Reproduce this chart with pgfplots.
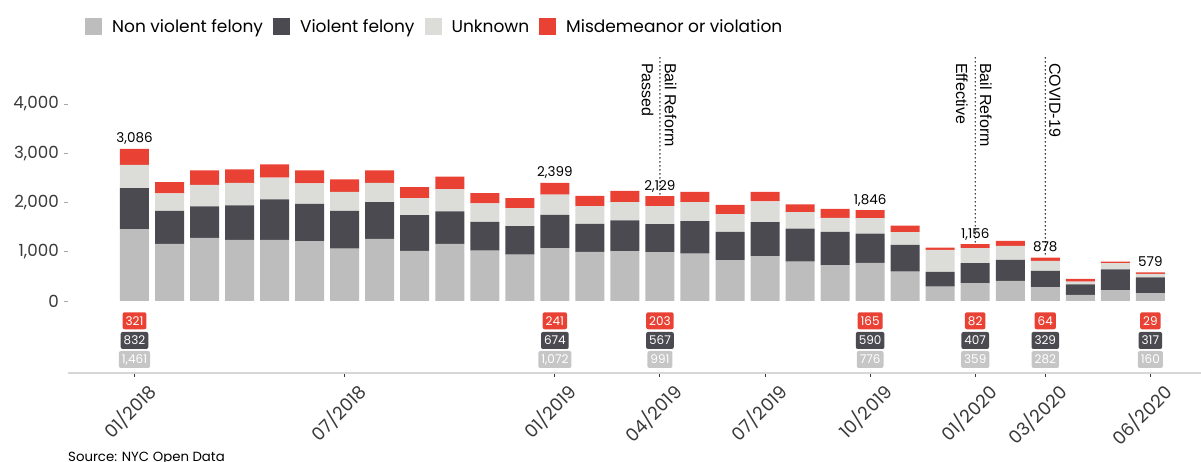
\documentclass[border=0pt]{standalone}
\usepackage{fontspec}
\setmainfont{Poppins}
\newfontfamily\annfont{Liberation Sans}
\usepackage{pgfplots}
\pgfplotsset{compat=1.18}
\usepackage{pgfplotstable}
\definecolor{cNV}{HTML}{BDBDBD}
\definecolor{cV}{HTML}{4A4A50}
\definecolor{cU}{HTML}{DCDCD8}
\definecolor{cM}{HTML}{E94235}
\definecolor{cBoxG}{HTML}{C6C6C6}
\definecolor{cAxis}{HTML}{D6D6D6}
\definecolor{cTxt}{HTML}{3A3A3A}

% month index, non violent felony, violent felony, unknown, misdemeanor/violation
\pgfplotstableread{
m nv v u md
1 1461 832 472 321
2 1159 672 352 231
3 1281 638 440 292
4 1241 698 461 271
5 1241 820 441 271
6 1214 759 413 265
7 1064 767 386 251
8 1261 746 393 251
9 1017 725 346 224
10 1159 658 454 251
11 1024 583 373 210
12 942 577 366 203
13 1072 674 412 241
14 997 569 359 211
15 1010 624 373 230
16 991 567 368 203
17 963 657 387 210
18 827 576 360 190
19 908 692 420 197
20 800 671 332 156
21 725 678 285 183
22 776 590 315 165
23 597 542 258 135
24 292 298 447 48
25 359 407 308 82
26 407 427 285 101
27 282 329 203 64
28 122 217 54 54
29 217 427 122 34
30 160 317 73 29
}\arrests

\newcommand{\fs}[1]{\fontsize{#1}{#1}\selectfont}

\begin{document}
\begin{tikzpicture}
\useasboundingbox (0,0) rectangle (1201pt,462pt);
\begin{axis}[
  at={(67.94pt,89pt)}, anchor=south west,
  x=35.03pt, y=0.04925pt,
  xmin=-0.9, xmax=31.45, ymin=-1462, ymax=4400,
  ybar stacked, bar width=29pt,
  clip=false,
  axis x line*=bottom, axis y line*=left,
  axis line style={-},
  x axis line style={draw=cAxis, line width=1.2pt},
  y axis line style={draw=none},
  tick align=outside,
  major tick length=4pt,
  x tick style={draw=cTxt, line width=1pt},
  y tick style={draw=gray!70, line width=0.8pt},
  ytick={0,1000,2000,3000,4000},
  yticklabels={0,{1,000},{2,000},{3,000},{4,000}},
  y tick label style={font=\fs{16.7}, text=cTxt, inner sep=0pt, xshift=-5pt},
  xtick={1,7,13,16,19,22,25,27,30},
  xticklabels={01/2018,07/2018,01/2019,04/2019,07/2019,10/2019,01/2020,03/2020,06/2020},
  x tick label style={font=\fs{18}, text=cTxt, rotate=45, anchor=north east, inner sep=0pt, yshift=-11pt, xshift=4.7pt},
  legend columns=-1,
  legend image code/.code={\fill[#1] (0pt,-8.5pt) rectangle (17pt,8.5pt);},
  legend style={at={(axis description cs:0.01506,1.1985)}, anchor=west,
    draw=none, fill=none, inner sep=0pt, font=\fs{17},
    nodes={inner sep=0pt},
    /tikz/every odd column/.append style={column sep=10pt},
    /tikz/every even column/.append style={column sep=10pt}},
]
\addplot[fill=cNV, draw=none] table[x=m,y=nv]{\arrests};
\addlegendentry{Non violent felony}
\addplot[fill=cV, draw=none] table[x=m,y=v]{\arrests};
\addlegendentry{Violent felony}
\addplot[fill=cU, draw=none] table[x=m,y=u]{\arrests};
\addlegendentry{Unknown}
\addplot[fill=cM, draw=none] table[x=m,y=md]{\arrests};
\addlegendentry{Misdemeanor or violation}

% totals above selected bars
\foreach \xx/\tt/\lab in {1/3086/{3,086},13/2399/{2,399},16/2129/{2,129},22/1846/{1,846},25/1156/{1,156},27/878/{878},30/579/{579}}{
  \edef\tmp{\noexpand\node[anchor=base, inner sep=0pt, font=\noexpand\fs{13.5}, text=black] at (axis cs:\xx,\tt) [yshift=6pt] {\lab};}
  \tmp
}

% event lines
\tikzset{evline/.style={black, line width=1.6pt, dash pattern=on 0pt off 4pt, line cap=round}}
\draw[evline] (axis cs:16,4934) -- (axis cs:16,2129);
\draw[evline] (axis cs:25,4934) -- (axis cs:25,1156);
\draw[evline] (axis cs:27,4934) -- (axis cs:27,878);
\tikzset{evtext/.style={rotate=-90, anchor=base west, inner sep=0pt, font=\annfont\fs{16}}}
\node[evtext] at ([xshift=5pt]axis cs:16,4832) {Bail Reform};
\node[evtext] at ([xshift=-18pt]axis cs:16,4832) {Passed};
\node[evtext] at ([xshift=5pt]axis cs:25,4832) {Bail Reform};
\node[evtext] at ([xshift=-19pt]axis cs:25,4832) {Effective};
\node[evtext] at ([xshift=4pt]axis cs:27,4832) {COVID-19};

% value boxes under selected months
\tikzset{vbox/.style={rounded corners=2pt, text=white, font=\fs{12}, minimum height=17pt, inner xsep=3pt, inner ysep=0pt}}
\foreach \xx/\a/\b/\c in {1/321/832/{1,461},13/241/674/{1,072},16/203/567/991,22/165/590/776,25/82/407/359,27/64/329/282,30/29/317/160}{
  \edef\tmp{\noexpand\node[vbox, fill=cM] at (axis cs:\xx,-402) {\a};
    \noexpand\node[vbox, fill=cV] at (axis cs:\xx,-802) {\b};
    \noexpand\node[vbox, fill=cBoxG] at (axis cs:\xx,-1188) {\c};}
  \tmp
}
\end{axis}
\node[anchor=base west, inner sep=0pt, font=\fs{13.3}, text=black] at (68pt,0.8pt) {Source: NYC Open Data};
\end{tikzpicture}
\end{document}
